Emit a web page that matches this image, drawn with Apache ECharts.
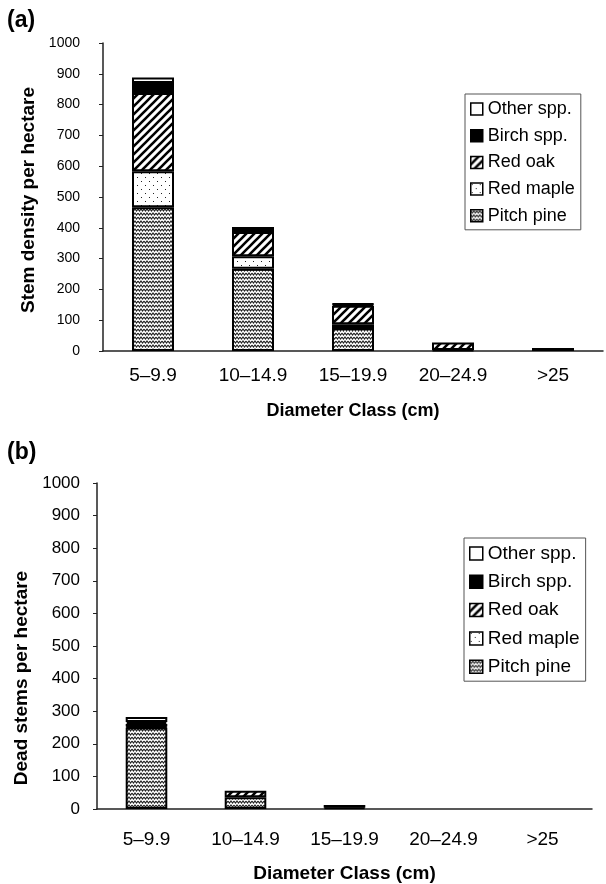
<!DOCTYPE html>
<html>
<head>
<meta charset="utf-8">
<script src="https://cdn.jsdelivr.net/npm/echarts@6/dist/echarts.min.js"></script>
<style>
  html, body { margin: 0; padding: 0; background: #fff; }
  #main { width: 606px; height: 884px; }
</style>
</head>
<body>
<div id="main"></div>
<script>
// diameter classes
const categories = ['5–9.9', '10–14.9', '15–19.9', '20–24.9', '>25'];
const yTicks = [0, 100, 200, 300, 400, 500, 600, 700, 800, 900, 1000];
const speciesOrder = ['Pitch pine', 'Red maple', 'Red oak', 'Birch spp.', 'Other spp.'];
const legendOrder = ['Other spp.', 'Birch spp.', 'Red oak', 'Red maple', 'Pitch pine'];

// (a) live stems per hectare
const livePine = [467, 267, 75, 3, 0];
const liveMaple = [117, 41, 12, 0, 0];
const liveOak = [254, 78, 60, 25, 10];
const liveBirch = [32, 17, 5, 0, 0];
const liveOther = [18, 0, 2, 0, 0];

// (b) dead stems per hectare
const deadPine = [250, 36, 4, 0, 0];
const deadMaple = [3, 0, 0, 0, 0];
const deadOak = [8, 20, 8, 0, 0];
const deadBirch = [6, 0, 0, 0, 0];
const deadOther = [15, 0, 0, 0, 0];

const FONT = '"Liberation Sans", Arial, sans-serif';

// little canvases for the fill patterns
function makeCanvas(w, h, draw) {
  const c = document.createElement('canvas');
  c.width = w; c.height = h;
  const ctx = c.getContext('2d');
  ctx.fillStyle = '#fff';
  ctx.fillRect(0, 0, w, h);
  draw(ctx);
  return c;
}
const wavePat = makeCanvas(6, 4, ctx => {
  ctx.strokeStyle = '#222';
  ctx.lineWidth = 1.1;
  ctx.beginPath();
  ctx.moveTo(0, 1); ctx.lineTo(1.5, 3); ctx.lineTo(3, 1); ctx.lineTo(4.5, 3); ctx.lineTo(6, 1);
  ctx.stroke();
});
const dotPat = makeCanvas(8, 8, ctx => {
  ctx.fillStyle = '#222';
  ctx.fillRect(1, 1, 1, 1);
  ctx.fillRect(5, 5, 1, 1);
});
const hatchPat = makeCanvas(8, 8, ctx => {
  ctx.strokeStyle = '#000';
  ctx.lineWidth = 2.6;
  ctx.beginPath();
  ctx.moveTo(-4, 4); ctx.lineTo(4, -4);
  ctx.moveTo(0, 8); ctx.lineTo(8, 0);
  ctx.moveTo(4, 12); ctx.lineTo(12, 4);
  ctx.stroke();
});

const fills = {
  'Pitch pine': { image: wavePat, repeat: 'repeat' },
  'Red maple': { image: dotPat, repeat: 'repeat' },
  'Red oak': { image: hatchPat, repeat: 'repeat' },
  'Birch spp.': '#000',
  'Other spp.': '#fff'
};

const liveData = [livePine, liveMaple, liveOak, liveBirch, liveOther];
const deadData = [deadPine, deadMaple, deadOak, deadBirch, deadOther];

function buildSeries(rows, idx) {
  return rows.map((vals, i) => ({
    name: speciesOrder[i],
    type: 'bar',
    stack: 'st' + idx,
    xAxisIndex: idx,
    yAxisIndex: idx,
    barWidth: '42%',
    data: vals.map(v => v === 0 ? '-' : v),
    itemStyle: { color: fills[speciesOrder[i]], borderColor: '#000', borderWidth: 2 },
    emphasis: { disabled: true }
  }));
}

function xAxisOf(idx, labelSize, margin, gap, nameSize) {
  return {
    type: 'category',
    gridIndex: idx,
    data: categories,
    axisLine: { lineStyle: { color: '#222', width: 1.5 } },
    axisTick: { length: 5, lineStyle: { color: '#222' } },
    axisLabel: { color: '#000', fontSize: labelSize, fontFamily: FONT, margin: margin, interval: 0 },
    name: 'Diameter Class (cm)',
    nameLocation: 'middle',
    nameGap: gap,
    nameTextStyle: { color: '#000', fontSize: nameSize, fontWeight: 'bold', fontFamily: FONT }
  };
}

function yAxisOf(idx, labelSize, margin) {
  return {
    type: 'value',
    gridIndex: idx,
    min: yTicks[0],
    max: yTicks[yTicks.length - 1],
    interval: yTicks[1] - yTicks[0],
    splitLine: { show: false },
    axisLine: { show: true, lineStyle: { color: '#222', width: 1.5 } },
    axisTick: { show: true, length: 4, lineStyle: { color: '#222' } },
    axisLabel: { color: '#000', fontSize: labelSize, fontFamily: FONT, margin: margin, formatter: v => String(v) }
  };
}

function legendOf(left, top, size, gap, icon) {
  return {
    orient: 'vertical',
    left: left,
    top: top,
    data: legendOrder,
    icon: 'rect',
    itemWidth: icon,
    itemHeight: icon,
    itemGap: gap,
    padding: [6, 6, 5, 5],
    borderColor: '#555',
    borderWidth: 1,
    backgroundColor: '#fff',
    selectedMode: false,
    itemStyle: { borderColor: '#000', borderWidth: 1.5 },
    textStyle: { color: '#000', fontSize: size, lineHeight: size, fontFamily: FONT }
  };
}

const chart = echarts.init(document.getElementById('main'), null, { renderer: 'canvas' });
chart.setOption({
  animation: false,
  backgroundColor: '#fff',
  grid: [
    { left: 103, right: 3, top: 43, height: 308 },
    { left: 97, right: 14, top: 483, height: 327 }
  ],
  legend: [legendOf(465, 94, 18, 8.7, 12), legendOf(464, 538, 19, 9.3, 13)],
  xAxis: [xAxisOf(0, 19, 15, 51, 18), xAxisOf(1, 19, 21, 55, 19)],
  yAxis: [yAxisOf(0, 14, 23), yAxisOf(1, 17, 17)],
  series: buildSeries(liveData, 0).concat(buildSeries(deadData, 1)),
  graphic: [
    { type: 'text', left: 7, top: 9, style: { text: '(a)', font: 'bold 23px ' + FONT, fill: '#000' } },
    { type: 'text', left: 7, top: 441, style: { text: '(b)', font: 'bold 23px ' + FONT, fill: '#000' } },
    { type: 'text', x: 29, y: 200, rotation: Math.PI / 2,
      style: { text: 'Stem density per hectare', font: 'bold 19px ' + FONT, fill: '#000', align: 'center', verticalAlign: 'middle' } },
    { type: 'text', x: 22, y: 678, rotation: Math.PI / 2,
      style: { text: 'Dead stems per hectare', font: 'bold 19px ' + FONT, fill: '#000', align: 'center', verticalAlign: 'middle' } }
  ]
});
</script>
</body>
</html>
